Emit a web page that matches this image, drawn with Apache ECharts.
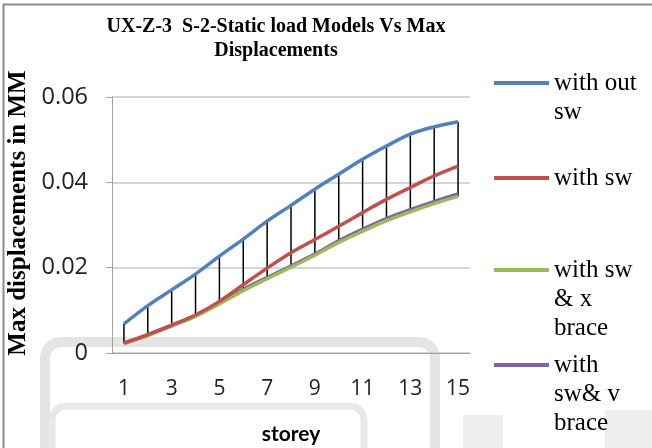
<!DOCTYPE html>
<html>
<head>
<meta charset="utf-8">
<script src="https://cdn.jsdelivr.net/npm/echarts@6/dist/echarts.min.js"></script>
<style>
html,body{margin:0;padding:0;background:#fff;}
#chart{width:652px;height:448px;}
</style>
</head>
<body>
<div id="chart"></div>
<script>
var storeys = ['1','2','3','4','5','6','7','8','9','10','11','12','13','14','15'];
var withOutSw = [0.0068,0.0111,0.0148,0.0185,0.0227,0.0267,0.0309,0.0346,0.0384,0.0419,0.0454,0.0485,0.0513,0.0530,0.0542];
var withSw    = [0.0023,0.0043,0.0065,0.0089,0.0121,0.0160,0.0199,0.0235,0.0266,0.0297,0.0329,0.0360,0.0388,0.0415,0.0438];
var withSwX   = [0.0022,0.0041,0.0063,0.0086,0.0115,0.0146,0.0174,0.0201,0.0229,0.0259,0.0285,0.0310,0.0331,0.0350,0.0367];
var withSwV   = [0.0023,0.0043,0.0065,0.0088,0.0118,0.0149,0.0177,0.0204,0.0232,0.0263,0.0290,0.0315,0.0336,0.0355,0.0373];
var seriesNames = ['with out sw','with sw','with sw & x brace','with sw& v brace'];
var legendLines = [['with out','sw'],['with sw'],['with sw','& x','brace'],['with','sw& v','brace']];
var colors = ['#4F81BD','#C0504D','#9BBB59','#8064A2'];

var allSeries = [withOutSw, withSw, withSwX, withSwV];
var hiLo = storeys.map(function(s, i){
  var vals = allSeries.map(function(a){return a[i];});
  return [i, Math.max.apply(null, vals), Math.min.apply(null, vals)];
});

var chart = echarts.init(document.getElementById('chart'));
var LH = 29;
var iconCenters = [83, 178, 270, 365];
var legends = seriesNames.map(function(name, i){
  var lines = legendLines[i];
  var n = lines.length;
  var pre = '';
  for (var k = 0; k < n - 1; k++) pre += ' \n';
  var label = pre + lines.join('\n');
  return {
    left: 494,
    top: iconCenters[i] - (2*n-1)*LH/2,
    orient: 'vertical',
    padding: 0,
    selectedMode: false,
    icon: 'rect',
    itemWidth: 55,
    itemHeight: 4,
    data: [name],
    formatter: function(){ return label; },
    textStyle: {
      fontFamily: '"Liberation Serif", "Times New Roman", serif',
      fontSize: 25,
      lineHeight: LH,
      color: '#000'
    }
  };
});

function lineSeries(name, data, color, z){
  return {
    name: name, type: 'line', data: data, smooth: 0.35,
    showSymbol: false, symbol: 'none', z: z,
    lineStyle: {color: color, width: 3.5},
    itemStyle: {color: color}
  };
}

chart.setOption({
  animation: false,
  title: {
    text: 'UX-Z-3  S-2-Static load Models Vs Max\nDisplacements',
    left: 271, textAlign: 'center', top: 10,
    textStyle: {fontFamily: '"Liberation Serif", serif', fontWeight: 'bold', fontSize: 20, lineHeight: 24, color: '#000'}
  },
  legend: legends,
  grid: {left: 112, right: 182, top: 97, bottom: 95, outerBoundsMode: 'none', containLabel: false},
  xAxis: {
    type: 'category', data: storeys, boundaryGap: true,
    name: 'storey', nameLocation: 'middle', nameGap: 71,
    nameTextStyle: {fontFamily: 'Lato', fontWeight: 'bold', fontSize: 21, color: '#000'},
    axisLine: {lineStyle: {color: '#a0a0a0', width: 1}},
    axisTick: {show: false},
    axisLabel: {interval: 1, margin: 26, fontFamily: 'Open Sans', fontSize: 21, color: '#222'}
  },
  yAxis: {
    type: 'value', min: 0, max: 0.06, interval: 0.02,
    name: 'Max displacements in MM', nameLocation: 'middle', nameGap: 72, nameRotate: 90,
    nameTextStyle: {fontFamily: '"Liberation Serif", serif', fontWeight: 'bold', fontSize: 25, color: '#000', padding: [0, 0, 0, 24]},
    axisLine: {show: true, lineStyle: {color: '#a0a0a0', width: 1}},
    axisTick: {show: true, length: 6, lineStyle: {color: '#a0a0a0'}},
    splitLine: {lineStyle: {color: '#c8c8c8', width: 1.5}},
    axisLabel: {margin: 24, fontFamily: 'Open Sans', fontSize: 23.5, color: '#222',
      formatter: function(v){ return v === 0 ? '0' : v.toFixed(2); }}
  },
  graphic: [
    {type: 'rect', silent: true, z: -10, shape: {x: 3.5, y: 4.5, width: 700, height: 500}, style: {fill: null, stroke: '#8a8a8a', lineWidth: 2}},
    {type: 'rect', silent: true, z: -5, shape: {x: 45, y: 342, width: 390, height: 200, r: 16}, style: {fill: null, stroke: '#e4e4e2', lineWidth: 10}},
    {type: 'rect', silent: true, z: -5, shape: {x: 52, y: 406, width: 312, height: 100, r: 14}, style: {fill: null, stroke: '#e8e8e6', lineWidth: 7}},
    {type: 'rect', silent: true, z: -6, shape: {x: 463, y: 415, width: 40, height: 40}, style: {fill: '#eeeeee'}},
    {type: 'rect', silent: true, z: -6, shape: {x: 605, y: 410, width: 50, height: 40}, style: {fill: '#eeeeee'}}
  ],
  series: [
    {
      type: 'custom', name: 'hilo', z: 1, silent: true,
      data: hiLo,
      encode: {x: 0, y: [1, 2]},
      renderItem: function(params, api){
        var top = api.coord([api.value(0), api.value(1)]);
        var bot = api.coord([api.value(0), api.value(2)]);
        return {type: 'line', shape: {x1: top[0], y1: top[1], x2: bot[0], y2: bot[1]},
          style: {stroke: '#000', lineWidth: 1.5}};
      }
    },
    lineSeries(seriesNames[0], withOutSw, colors[0], 5),
    lineSeries(seriesNames[1], withSw, colors[1], 4),
    lineSeries(seriesNames[3], withSwV, colors[3], 3),
    lineSeries(seriesNames[2], withSwX, colors[2], 3)
  ]
});
</script>
</body>
</html>
